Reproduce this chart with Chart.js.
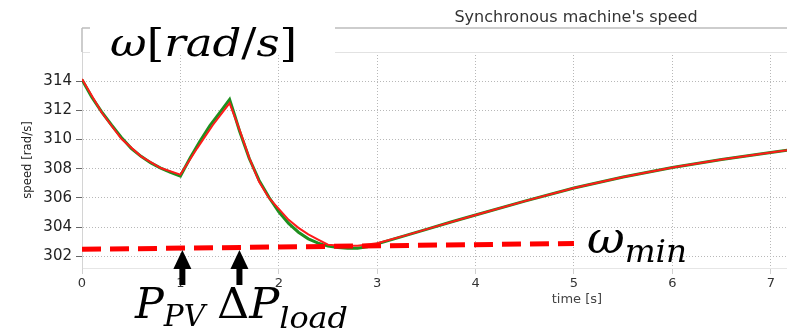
<!DOCTYPE html>
<html lang="en">
<head>
    <meta charset="UTF-8">
    <title>Synchronous machine's speed</title>
    <style>
        html, body { margin: 0; padding: 0; background: #fff; }
        .chart-box { position: relative; width: 787px; height: 333px; }
    </style>
</head>
<body>
    <div class="chart-box">
        <canvas id="speedChart" width="787" height="333"></canvas>
    </div>

    <script src="https://cdn.jsdelivr.net/npm/chart.js"></script>
    <script>
        // Simulated speed (green)
        const greenTime = [0, 0.1, 0.2, 0.3, 0.4, 0.5, 0.6, 0.7, 0.8, 0.9, 1.0, 1.1, 1.2, 1.3, 1.4, 1.5, 1.55, 1.6, 1.7, 1.8, 1.9, 2.0, 2.1, 2.2, 2.3, 2.4, 2.5, 2.6, 2.7, 2.8, 2.9, 3.0, 3.25, 3.5, 3.75, 4.0, 4.5, 5.0, 5.5, 6.0, 6.5, 7.0, 7.2];
        const greenSpeed = [314.1, 312.9, 311.9, 311.0, 310.15, 309.4, 308.85, 308.4, 308.05, 307.75, 307.5, 308.75, 309.9, 310.95, 311.85, 312.75, 311.7, 310.6, 308.7, 307.2, 306.05, 305.05, 304.25, 303.65, 303.2, 302.9, 302.7, 302.6, 302.55, 302.55, 302.65, 302.85, 303.35, 303.85, 304.35, 304.83, 305.78, 306.68, 307.44, 308.08, 308.64, 309.12, 309.3];

        // Approximated speed (red)
        const redTime = [0, 0.2, 0.4, 0.6, 0.8, 1.0, 1.17, 1.33, 1.5, 1.6, 1.7, 1.8, 1.9, 2.0, 2.1, 2.2, 2.3, 2.4, 2.5, 2.6, 2.8, 3.0, 3.3, 3.6, 4.0, 4.5, 5.0, 5.5, 6.0, 6.5, 7.0, 7.2];
        const redSpeed = [314.15, 311.85, 310.05, 308.85, 308.05, 307.6, 309.4, 311.0, 312.5, 310.7, 308.75, 307.1, 306.0, 305.25, 304.5, 303.95, 303.5, 303.15, 302.8, 302.75, 302.72, 302.9, 303.45, 304.05, 304.83, 305.78, 306.68, 307.44, 308.08, 308.64, 309.12, 309.3];

        // omega_min dashed line
        const minTime = [0, 5];
        const minSpeed = [302.48, 302.88];

        // events (arrows): PV step and load step
        const eventTimes = [1.02, 1.6];

        const xTicks = [0, 1, 2, 3, 4, 5, 6, 7];
        const yTicks = [302, 304, 306, 308, 310, 312, 314, 316];

        const toPoints = (xs, ys) => xs.map((x, i) => ({ x: x, y: ys[i] }));

        // draws a math-like label, stretched to a given width
        function drawMath(ctx, parts, left, width) {
            ctx.save();
            let total = 0;
            parts.forEach(p => {
                ctx.font = (p.upright ? '' : 'italic ') + p.size + 'px "DejaVu Serif", serif';
                p.w = ctx.measureText(p.text).width;
                total += p.w;
            });
            ctx.translate(left, 0);
            ctx.scale(width / total, 1);
            let x = 0;
            ctx.fillStyle = '#000';
            ctx.textBaseline = 'alphabetic';
            parts.forEach(p => {
                ctx.font = (p.upright ? '' : 'italic ') + p.size + 'px "DejaVu Serif", serif';
                ctx.fillText(p.text, x, p.base);
                x += p.w;
            });
            ctx.restore();
        }

        const decorPlugin = {
            id: 'decor',
            beforeDraw(chart) {
                const ctx = chart.ctx;
                const area = chart.chartArea;
                ctx.save();
                // frame above plot
                ctx.strokeStyle = '#bdbdbd';
                ctx.lineWidth = 1.5;
                ctx.beginPath();
                ctx.moveTo(area.left, 28);
                ctx.lineTo(area.right, 28);
                ctx.moveTo(area.left, 28);
                ctx.lineTo(area.left, area.top);
                ctx.stroke();
                // title
                ctx.fillStyle = '#333';
                ctx.font = '16px "DejaVu Sans", sans-serif';
                ctx.textAlign = 'center';
                ctx.textBaseline = 'alphabetic';
                ctx.fillText("Synchronous machine's speed", 576, 22);
                // x axis title
                ctx.font = '13px "DejaVu Sans", sans-serif';
                ctx.fillStyle = '#444';
                ctx.fillText('time [s]', chart.scales.x.getPixelForValue(5.03), 303);
                ctx.restore();
            },
            afterDraw(chart) {
                const ctx = chart.ctx;
                const xs = chart.scales.x;
                ctx.save();
                // arrows
                ctx.fillStyle = '#000';
                eventTimes.forEach(t => {
                    const cx = xs.getPixelForValue(t);
                    ctx.beginPath();
                    ctx.moveTo(cx, 250);
                    ctx.lineTo(cx - 9, 269);
                    ctx.lineTo(cx + 9, 269);
                    ctx.closePath();
                    ctx.fill();
                    ctx.fillRect(cx - 3, 266, 6, 19);
                });
                // white box behind the unit label
                ctx.fillStyle = '#fff';
                ctx.fillRect(90, 27, 245, 26);
                ctx.restore();

                drawMath(ctx, [
                    { text: '\u03c9', size: 40, base: 56 },
                    { text: '[', size: 40, base: 56, upright: true },
                    { text: 'rad', size: 40, base: 56 },
                    { text: '/', size: 40, base: 56, upright: true },
                    { text: 's', size: 40, base: 56 },
                    { text: ']', size: 40, base: 56, upright: true }
                ], 110, 187);

                drawMath(ctx, [
                    { text: 'P', size: 42, base: 318 },
                    { text: 'PV', size: 29, base: 326 }
                ], 135, 70);

                drawMath(ctx, [
                    { text: '\u0394', size: 42, base: 318, upright: true },
                    { text: 'P', size: 42, base: 318 },
                    { text: 'load', size: 30, base: 328 }
                ], 217, 131);

                drawMath(ctx, [
                    { text: '\u03c9', size: 44, base: 253 },
                    { text: 'min', size: 31, base: 262 }
                ], 587, 100);
            }
        };

        new Chart(document.getElementById('speedChart').getContext('2d'), {
            type: 'line',
            data: {
                datasets: [
                    {
                        label: 'omega min',
                        data: toPoints(minTime, minSpeed),
                        borderColor: '#ff0000',
                        borderWidth: 5,
                        borderDash: [19, 9],
                        pointRadius: 0,
                        tension: 0,
                        order: 1
                    },
                    {
                        label: 'speed (red)',
                        data: toPoints(redTime, redSpeed),
                        borderColor: '#ff1a1a',
                        borderWidth: 2,
                        pointRadius: 0,
                        tension: 0,
                        order: 2
                    },
                    {
                        label: 'speed (green)',
                        data: toPoints(greenTime, greenSpeed),
                        borderColor: '#1f8f1f',
                        borderWidth: 3,
                        pointRadius: 0,
                        tension: 0,
                        order: 3
                    }
                ]
            },
            options: {
                responsive: false,
                animation: false,
                events: [],
                layout: { padding: { top: 52, right: 0, left: 0, bottom: 0 } },
                plugins: {
                    legend: { display: false },
                    title: { display: false },
                    tooltip: { enabled: false }
                },
                scales: {
                    x: {
                        type: 'linear',
                        min: 0,
                        max: 7.165,
                        afterBuildTicks: s => { s.ticks = xTicks.map(v => ({ value: v })); },
                        afterFit: s => { s.height = 65; },
                        ticks: {
                            color: '#333',
                            padding: 2,
                            maxRotation: 0,
                            font: { family: '"DejaVu Sans", sans-serif', size: 13 }
                        },
                        grid: {
                            color: '#b8b8b8',
                            tickColor: '#d0d0d0',
                            tickLength: 6
                        },
                        border: { color: '#e6e6e6', dash: [1, 2] }
                    },
                    y: {
                        min: 301.2,
                        max: 316,
                        afterBuildTicks: s => { s.ticks = yTicks.map(v => ({ value: v })); },
                        afterFit: s => { s.width = 82; },
                        title: {
                            display: true,
                            text: 'speed [rad/s]',
                            color: '#222',
                            padding: { top: 20, bottom: 0 },
                            font: { family: '"DejaVu Sans Condensed", "Liberation Sans Narrow", "Liberation Sans", sans-serif', size: 13 }
                        },
                        ticks: {
                            color: '#222',
                            padding: 4,
                            callback: v => (v === 316 ? '' : v),
                            font: { family: '"DejaVu Sans", sans-serif', size: 15 }
                        },
                        grid: {
                            color: ctx => (ctx.tick && ctx.tick.value === 316 ? '#e2e2e2' : '#b8b8b8'),
                            tickColor: ctx => (ctx.tick && ctx.tick.value === 316 ? 'rgba(0,0,0,0)' : '#666'),
                            tickLength: 6
                        },
                        border: {
                            color: '#d4d4d4',
                            dash: ctx => (ctx.tick && ctx.tick.value === 316 ? [] : [1, 2])
                        }
                    }
                }
            },
            plugins: [decorPlugin]
        });
    </script>
</body>
</html>
